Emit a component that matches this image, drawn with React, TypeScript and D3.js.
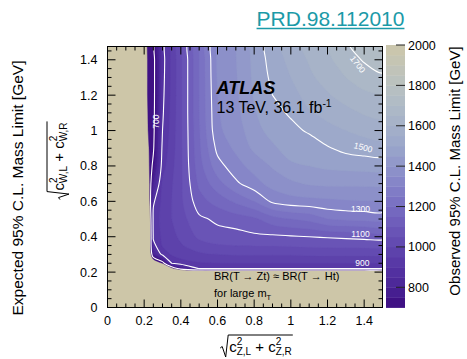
import * as d3 from "d3";
import { useEffect, useRef } from "react";

// sample grid of the limit map (non uniform near the excluded edge)
const xGrid = [0, 0.21, 0.23, 0.25, 0.3, 0.35, 0.4, 0.5, 0.6, 0.7, 0.8, 0.9, 1.0, 1.1, 1.2, 1.3, 1.4, 1.5];
const yGrid = [0, 0.2, 0.22, 0.25, 0.3, 0.35, 0.4, 0.5, 0.6, 0.7, 0.8, 0.9, 1.0, 1.1, 1.2, 1.3, 1.4, 1.5];

// observed 95% CL mass limit [GeV], one row per yGrid value (bottom to top), below 650 = not shown
const limitRows = [
  [400, 400, 400, 400, 400, 400, 400, 400, 400, 400, 400, 400, 400, 400, 400, 400, 400, 400],
  [400, 400, 400, 400, 400, 400, 400, 400, 400, 400, 400, 400, 400, 400, 400, 400, 400, 400],
  [400, 400, 400, 440, 480, 600, 760, 905, 905, 905, 905, 905, 905, 905, 905, 905, 905, 905],
  [400, 400, 420, 530, 650, 900, 930, 945, 950, 950, 950, 950, 950, 950, 950, 950, 950, 950],
  [400, 400, 560, 790, 920, 955, 970, 990, 1000, 1005, 1005, 1005, 1005, 1008, 1010, 1010, 1010, 1010],
  [400, 400, 580, 880, 955, 975, 995, 1030, 1045, 1050, 1052, 1053, 1055, 1060, 1062, 1064, 1065, 1065],
  [400, 400, 560, 910, 960, 985, 1010, 1060, 1080, 1080, 1090, 1090, 1095, 1100, 1105, 1110, 1115, 1120],
  [400, 400, 580, 920, 965, 1000, 1030, 1090, 1110, 1125, 1140, 1180, 1200, 1215, 1250, 1260, 1265, 1270],
  [400, 400, 640, 890, 965, 1000, 1040, 1130, 1170, 1210, 1250, 1310, 1330, 1335, 1340, 1345, 1348, 1350],
  [400, 500, 650, 800, 960, 995, 1040, 1160, 1230, 1290, 1330, 1370, 1390, 1405, 1410, 1410, 1410, 1410],
  [400, 560, 660, 720, 930, 985, 1040, 1180, 1280, 1330, 1370, 1405, 1440, 1450, 1460, 1465, 1468, 1470],
  [400, 580, 665, 690, 915, 975, 1040, 1190, 1315, 1360, 1410, 1440, 1475, 1480, 1495, 1515, 1525, 1530],
  [400, 630, 665, 680, 900, 970, 1040, 1195, 1340, 1375, 1430, 1470, 1490, 1505, 1535, 1550, 1565, 1575],
  [400, 635, 665, 675, 893, 965, 1040, 1200, 1345, 1385, 1445, 1488, 1505, 1545, 1565, 1585, 1605, 1615],
  [400, 640, 665, 672, 888, 962, 1040, 1200, 1350, 1390, 1455, 1500, 1530, 1570, 1595, 1620, 1640, 1650],
  [400, 640, 665, 672, 884, 960, 1040, 1200, 1355, 1395, 1460, 1512, 1550, 1590, 1620, 1650, 1675, 1690],
  [400, 640, 665, 672, 881, 960, 1040, 1200, 1358, 1398, 1463, 1522, 1565, 1605, 1640, 1675, 1705, 1730],
  [400, 640, 665, 672, 880, 960, 1040, 1200, 1360, 1400, 1465, 1530, 1580, 1620, 1655, 1695, 1730, 1765],
];

const lineLevels = [700, 900, 1100, 1300, 1500, 1700];
const lineLabels = ["700", "900", "1100", "1300", "1500", "1700"];
const axisTicks = [0, 0.2, 0.4, 0.6, 0.8, 1, 1.2, 1.4];
const colorbarTicks = [800, 1000, 1200, 1400, 1600, 1800, 2000];

// palette of the z axis
const colorStops = [700, 800, 900, 1000, 1100, 1200, 1300, 1400, 1500, 1600, 1700, 1800, 1900, 2000];
const colorHex = [
  "#3b0a7e", "#4a2596", "#5534a3", "#6046ae", "#6c59b9", "#776dc1", "#8381c7",
  "#8f95ca", "#9aa6ca", "#a4b1c8", "#aebac6", "#b8c1c1", "#c2c4b6", "#ccc6aa",
];

const zMin = 700;
const zMax = 2000;
const zStep = 50;
const cutLevel = 650;

export default function App() {
  const ref = useRef<SVGSVGElement>(null);

  useEffect(() => {
    if (!ref.current) return;
    const svg = d3.select(ref.current);
    svg.selectAll("*").remove();

    const font = "'Liberation Sans', Arial, Helvetica, sans-serif";
    const left = 107.5, right = 382.5, top = 46.5, bottom = 307.5;

    const x = d3.scaleLinear().domain([0, 1.5]).range([left, right]);
    const y = d3.scaleLinear().domain([0, 1.475]).range([bottom, top]);
    const color = d3
      .scaleLinear<string>()
      .domain(colorStops)
      .range(colorHex)
      .interpolate(d3.interpolateRgb)
      .clamp(true);

    svg.append("rect").attr("width", 467).attr("height", 359).attr("fill", "#fff");

    // frame background = region without a limit
    svg
      .append("rect")
      .attr("x", left)
      .attr("y", top)
      .attr("width", right - left)
      .attr("height", bottom - top)
      .attr("fill", "#cdc6a8");

    svg
      .append("clipPath")
      .attr("id", "plot-clip")
      .append("rect")
      .attr("x", left)
      .attr("y", top)
      .attr("width", right - left)
      .attr("height", bottom - top);

    // grid index -> data coordinates (value i sits at i + 0.5)
    const nx = xGrid.length;
    const ny = yGrid.length;
    const gx = d3.scaleLinear().domain(xGrid.map((_, i) => i + 0.5)).range(xGrid);
    const gy = d3.scaleLinear().domain(yGrid.map((_, i) => i + 0.5)).range(yGrid);
    const values = limitRows.flat();

    // smooth closed rings instead of the raw marching-squares polygons
    const ringLine = d3
      .line<number[]>()
      .x((p) => x(gx(p[0])))
      .y((p) => y(gy(p[1])))
      .curve(d3.curveCatmullRomClosed.alpha(0.5));
    const shape = (mp: d3.ContourMultiPolygon) =>
      mp.coordinates
        .flatMap((poly) => poly.map((ring) => ringLine(ring.slice(0, -1)) ?? ""))
        .join("");

    const plot = svg.append("g").attr("clip-path", "url(#plot-clip)");

    const thresholds = [cutLevel, ...d3.range(zMin, zMax, zStep)];
    const bands = d3.contours().size([nx, ny]).thresholds(thresholds)(values);
    plot
      .selectAll("path.band")
      .data(bands)
      .join("path")
      .attr("class", "band")
      .attr("d", (d) => shape(d))
      .attr("fill", (d) => color(Math.max(zMin, d.value) + zStep / 2))
      .attr("stroke", (d) => color(Math.max(zMin, d.value) + zStep / 2))
      .attr("stroke-width", 0.4);

    const lines = d3.contours().size([nx, ny]).thresholds(lineLevels)(values);
    plot
      .selectAll("path.level")
      .data(lines)
      .join("path")
      .attr("class", "level")
      .attr("d", (d) => shape(d))
      .attr("fill", "none")
      .attr("stroke", "#fff")
      .attr("stroke-width", 1.1);

    // contour labels
    const labelSpots = [
      { vx: 0.266, vy: 1.05, rot: -90 },
      { vx: 1.39, vy: 0.25, rot: 0 },
      { vx: 1.38, vy: 0.414, rot: 0 },
      { vx: 1.38, vy: 0.556, rot: 0 },
      { vx: 1.395, vy: 0.905, rot: 14 },
      { vx: 1.365, vy: 1.375, rot: 52 },
    ];
    lineLabels.forEach((t, i) => {
      const s = labelSpots[i];
      svg
        .append("text")
        .attr("transform", `translate(${x(s.vx)},${y(s.vy)}) rotate(${s.rot})`)
        .attr("text-anchor", "middle")
        .attr("dy", "0.35em")
        .attr("font-family", font)
        .attr("font-size", 8.5)
        .attr("fill", "#fff")
        .text(t);
    });

    // ATLAS label
    svg
      .append("text")
      .attr("x", 216.5)
      .attr("y", 94)
      .attr("font-family", font)
      .attr("font-size", 18)
      .attr("font-weight", "bold")
      .attr("font-style", "italic")
      .text("ATLAS");
    const lumi = svg
      .append("text")
      .attr("x", 216.5)
      .attr("y", 113)
      .attr("font-family", font)
      .attr("font-size", 16);
    lumi.append("tspan").text("13 TeV, 36.1 fb");
    lumi.append("tspan").attr("dy", -6).attr("font-size", 10.5).text("-1");

    svg
      .append("text")
      .attr("x", 214)
      .attr("y", 280)
      .attr("font-family", font)
      .attr("font-size", 11)
      .text("BR(T \u2192 Zt) \u2248 BR(T \u2192 Ht)");
    const large = svg
      .append("text")
      .attr("x", 214)
      .attr("y", 297)
      .attr("font-family", font)
      .attr("font-size", 11);
    large.append("tspan").text("for large m");
    large.append("tspan").attr("dy", 3).attr("font-size", 7.5).text("T");

    // frame and ticks on all four sides
    const ax = svg.append("g").attr("stroke", "#000").attr("stroke-width", 1);
    const minorX = d3.range(0, 1.5001, 0.05);
    const minorY = d3.range(0, 1.4751, 0.05);
    minorX.forEach((v) => {
      const major = axisTicks.some((t) => Math.abs(t - v) < 1e-6);
      const len = major ? 8 : 4;
      ax.append("line").attr("x1", x(v)).attr("x2", x(v)).attr("y1", bottom).attr("y2", bottom - len);
      ax.append("line").attr("x1", x(v)).attr("x2", x(v)).attr("y1", top).attr("y2", top + len);
    });
    minorY.forEach((v) => {
      const major = axisTicks.some((t) => Math.abs(t - v) < 1e-6);
      const len = major ? 8 : 4;
      ax.append("line").attr("x1", left).attr("x2", left + len).attr("y1", y(v)).attr("y2", y(v));
      ax.append("line").attr("x1", right).attr("x2", right - len).attr("y1", y(v)).attr("y2", y(v));
    });
    svg
      .append("rect")
      .attr("x", left)
      .attr("y", top)
      .attr("width", right - left)
      .attr("height", bottom - top)
      .attr("fill", "none")
      .attr("stroke", "#000");

    const fmt = d3.format("~g");
    svg
      .append("g")
      .selectAll("text")
      .data(axisTicks)
      .join("text")
      .attr("x", (d) => x(d))
      .attr("y", 325)
      .attr("text-anchor", "middle")
      .attr("font-family", font)
      .attr("font-size", 12.5)
      .text((d) => fmt(d));
    svg
      .append("g")
      .selectAll("text")
      .data(axisTicks)
      .join("text")
      .attr("x", 97.5)
      .attr("y", (d) => y(d) + 4.5)
      .attr("text-anchor", "end")
      .attr("font-family", font)
      .attr("font-size", 12.5)
      .text((d) => fmt(d));

    // colour bar
    const cbLeft = 386, cbRight = 405;
    const z = d3.scaleLinear().domain([zMin, zMax]).range([bottom, 45]);
    svg
      .append("g")
      .selectAll("rect")
      .data(d3.range(zMin, zMax, zStep))
      .join("rect")
      .attr("x", cbLeft)
      .attr("width", cbRight - cbLeft)
      .attr("y", (d) => z(d + zStep))
      .attr("height", (d) => z(d) - z(d + zStep) + 0.4)
      .attr("fill", (d) => color(d + zStep / 2));
    svg
      .append("g")
      .selectAll("line")
      .data(colorbarTicks)
      .join("line")
      .attr("x1", cbRight)
      .attr("x2", cbRight - 9)
      .attr("y1", (d) => z(d))
      .attr("y2", (d) => z(d))
      .attr("stroke", "#222")
      .attr("stroke-width", 1);
    svg
      .append("g")
      .selectAll("text")
      .data(colorbarTicks)
      .join("text")
      .attr("x", 408)
      .attr("y", (d) => z(d) + 4.5)
      .attr("font-family", font)
      .attr("font-size", 12.5)
      .text((d) => d);

    // axis titles
    svg
      .append("text")
      .attr("transform", "translate(23,188) rotate(-90)")
      .attr("text-anchor", "middle")
      .attr("font-family", font)
      .attr("font-size", 15.5)
      .text("Expected 95% C.L. Mass Limit [GeV]");
    svg
      .append("text")
      .attr("transform", "translate(460,171) rotate(-90)")
      .attr("text-anchor", "middle")
      .attr("font-family", font)
      .attr("font-size", 15)
      .text("Observed 95% C.L. Mass Limit [GeV]");

    const sqrtTitle = (sub1: string, sub2: string) => {
      const g = svg.append("g");
      const t = g.append("text").attr("x", 10).attr("y", 0).attr("font-family", font).attr("font-size", 15);
      t.append("tspan").text("c");
      t.append("tspan").attr("dy", -6.5).attr("font-size", 10).text("2");
      t.append("tspan").attr("dx", -5.6).attr("dy", 10).attr("font-size", 10).text(sub1);
      t.append("tspan").attr("dy", -3.5).text("\u00a0+ c");
      t.append("tspan").attr("dy", -6.5).attr("font-size", 10).text("2");
      t.append("tspan").attr("dx", -5.6).attr("dy", 10).attr("font-size", 10).text(sub2);
      const b = (t.node() as SVGTextElement).getBBox();
      const yTop = b.y - 1;
      const yBot = b.y + b.height;
      g.append("path")
        .attr(
          "d",
          `M1,${yBot - 9} L3,${yBot - 10.5} L6.5,${yBot} L9,${yTop} L${b.x + b.width + 1},${yTop}`
        )
        .attr("fill", "none")
        .attr("stroke", "#000")
        .attr("stroke-width", 1);
      return { g, yTop, cx: (b.x + b.width + 1) / 2 };
    };
    const xt = sqrtTitle("Z,L", "Z,R");
    xt.g.attr("transform", `translate(${256 - xt.cx},${335 - xt.yTop})`);
    const yt = sqrtTitle("W,L", "W,R");
    yt.g.attr("transform", `translate(${47 - yt.yTop},${161 + yt.cx}) rotate(-90)`);

    // reference link
    const link = svg
      .append("text")
      .attr("x", 330.5)
      .attr("y", 26)
      .attr("text-anchor", "middle")
      .attr("font-family", font)
      .attr("font-size", 21)
      .attr("fill", "#1b9aa8")
      .text("PRD.98.112010");
    const lb = (link.node() as SVGTextElement).getBBox();
    svg
      .append("line")
      .attr("x1", lb.x)
      .attr("x2", lb.x + lb.width)
      .attr("y1", 28.5)
      .attr("y2", 28.5)
      .attr("stroke", "#1b9aa8")
      .attr("stroke-width", 1.3);
  }, []);

  return (
    <svg
      ref={ref}
      width={467}
      height={359}
      style={{ position: "absolute", left: 0, top: 0, display: "block" }}
    />
  );
}
